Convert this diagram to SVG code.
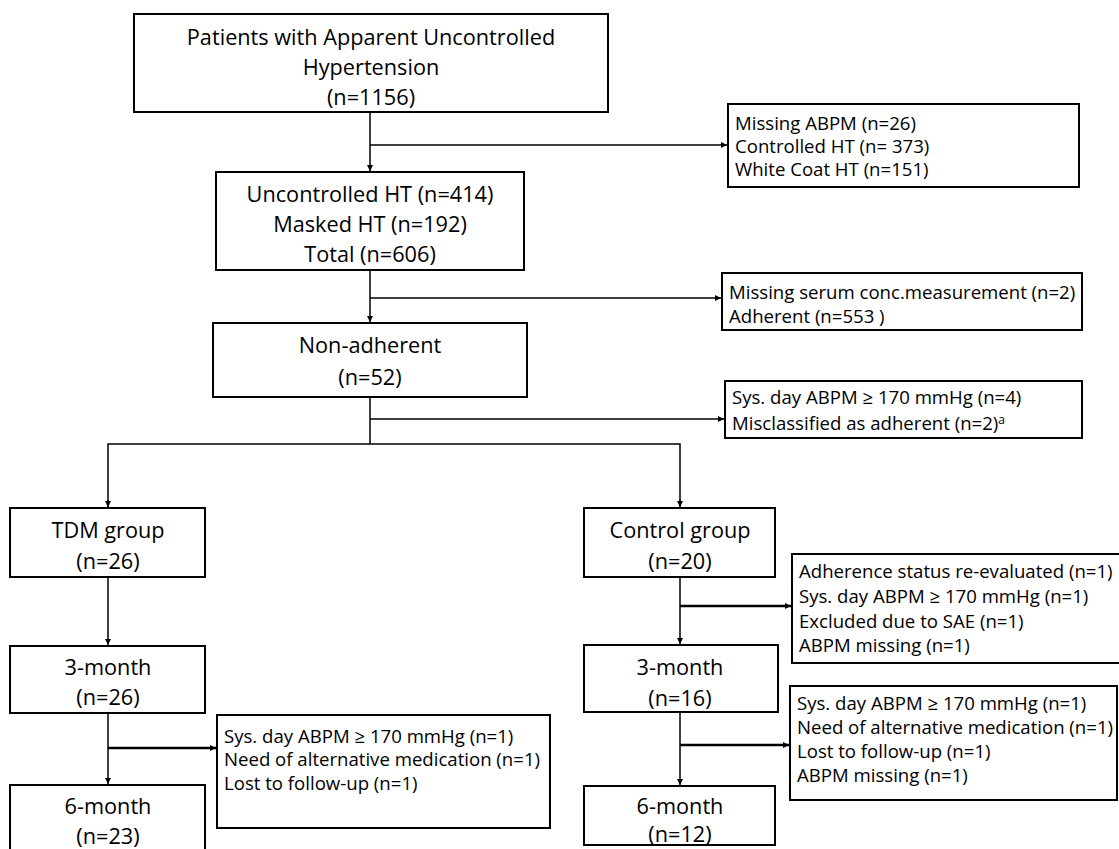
<svg xmlns="http://www.w3.org/2000/svg" width="1119" height="849" viewBox="0 0 1119 849">
<defs>
<marker id="ah" viewBox="0 0 10 10" refX="10" refY="5" markerWidth="6" markerHeight="6" orient="auto" markerUnits="userSpaceOnUse">
<path d="M0,0 L10,5 L0,10 z" fill="#000"/>
</marker>
</defs>
<style>
.box{fill:#fff;stroke:#000;stroke-width:2}
.big{font-family:"Open Sans","Liberation Sans",sans-serif;font-size:21.7px;fill:#000;text-anchor:middle}
.sm{font-family:"Open Sans","Liberation Sans",sans-serif;font-size:18.6px;fill:#000}
.ln{fill:none;stroke:#000;stroke-width:1.5}
.lnb{fill:none;stroke:#000;stroke-width:2.5}
</style>
<rect width="1119" height="849" fill="#fff"/>
<g id="connectors">
<line class="ln" x1="370" y1="112" x2="370" y2="171" marker-end="url(#ah)"/>
<line class="ln" x1="370" y1="145" x2="727" y2="145" marker-end="url(#ah)"/>
<line class="ln" x1="370" y1="270" x2="370" y2="322" marker-end="url(#ah)"/>
<line class="ln" x1="370" y1="298" x2="721" y2="298" marker-end="url(#ah)"/>
<line class="ln" x1="370" y1="397" x2="370" y2="444"/>
<line class="ln" x1="370" y1="419" x2="724" y2="419" marker-end="url(#ah)"/>
<polyline class="ln" points="108,507 108,444 680,444 680,507"/>
<line class="ln" x1="108" y1="500" x2="108" y2="507" marker-end="url(#ah)"/>
<line class="ln" x1="680" y1="500" x2="680" y2="507" marker-end="url(#ah)"/>
<line class="ln" x1="108" y1="577" x2="108" y2="645" marker-end="url(#ah)"/>
<line class="ln" x1="108" y1="713" x2="108" y2="784" marker-end="url(#ah)"/>
<line class="lnb" x1="108" y1="748" x2="216" y2="748" marker-end="url(#ah)"/>
<line class="ln" x1="680" y1="577" x2="680" y2="644" marker-end="url(#ah)"/>
<line class="lnb" x1="680" y1="606" x2="791" y2="606" marker-end="url(#ah)"/>
<line class="ln" x1="680" y1="712" x2="680" y2="785" marker-end="url(#ah)"/>
<line class="lnb" x1="680" y1="745" x2="789" y2="745" marker-end="url(#ah)"/>
</g>
<g id="n-start">
<rect class="box" x="134" y="14" width="474" height="98"/>
<text class="big" x="371" y="45">Patients with Apparent Uncontrolled</text>
<text class="big" x="371" y="75">Hypertension</text>
<text class="big" x="371" y="105">(n=1156)</text>
</g>
<g id="n-excl1">
<rect class="box" x="728" y="104" width="351" height="83"/>
<text class="sm" x="735" y="130">Missing ABPM (n=26)</text>
<text class="sm" x="735" y="153">Controlled HT (n= 373)</text>
<text class="sm" x="735" y="176">White Coat HT (n=151)</text>
</g>
<g id="n-total">
<rect class="box" x="216" y="172" width="308" height="98"/>
<text class="big" x="370" y="202">Uncontrolled HT (n=414)</text>
<text class="big" x="370" y="232">Masked HT (n=192)</text>
<text class="big" x="370" y="262">Total (n=606)</text>
</g>
<g id="n-excl2">
<rect class="box" x="722" y="273" width="360" height="57"/>
<text class="sm" x="729" y="299">Missing serum conc.measurement (n=2)</text>
<text class="sm" x="729" y="323">Adherent (n=553 )</text>
</g>
<g id="n-nonadherent">
<rect class="box" x="213" y="323" width="314" height="74"/>
<text class="big" x="370" y="353">Non-adherent</text>
<text class="big" x="370" y="385">(n=52)</text>
</g>
<g id="n-excl3">
<rect class="box" x="725" y="381" width="357" height="57"/>
<text class="sm" x="732" y="404">Sys. day ABPM ≥ 170 mmHg (n=4)</text>
<text class="sm" x="732" y="430">Misclassified as adherent (n=2)<tspan font-size="12" dy="-6">a</tspan></text>
</g>
<g id="n-tdm">
<rect class="box" x="10" y="508" width="195" height="69"/>
<text class="big" x="108" y="538">TDM group</text>
<text class="big" x="108" y="569">(n=26)</text>
</g>
<g id="n-control">
<rect class="box" x="584" y="508" width="191" height="69"/>
<text class="big" x="680" y="538">Control group</text>
<text class="big" x="680" y="569">(n=20)</text>
</g>
<g id="n-tdm3">
<rect class="box" x="10" y="646" width="195" height="67"/>
<text class="big" x="108" y="675">3-month</text>
<text class="big" x="108" y="705">(n=26)</text>
</g>
<g id="n-tdm-excl">
<rect class="box" x="217" y="715" width="333" height="113"/>
<text class="sm" x="224" y="743">Sys. day ABPM ≥ 170 mmHg (n=1)</text>
<text class="sm" x="224" y="766">Need of alternative medication (n=1)</text>
<text class="sm" x="224" y="790">Lost to follow-up (n=1)</text>
</g>
<g id="n-tdm6">
<rect class="box" x="10" y="785" width="195" height="80"/>
<text class="big" x="108" y="814">6-month</text>
<text class="big" x="108" y="844">(n=23)</text>
</g>
<g id="n-ctrl-excl1">
<rect class="box" x="792" y="554" width="330" height="109"/>
<text class="sm" x="799" y="578">Adherence status re-evaluated (n=1)</text>
<text class="sm" x="799" y="603">Sys. day ABPM ≥ 170 mmHg (n=1)</text>
<text class="sm" x="799" y="628">Excluded due to SAE (n=1)</text>
<text class="sm" x="799" y="652">ABPM missing (n=1)</text>
</g>
<g id="n-ctrl3">
<rect class="box" x="584" y="645" width="194" height="67"/>
<text class="big" x="680" y="675">3-month</text>
<text class="big" x="680" y="706">(n=16)</text>
</g>
<g id="n-ctrl-excl2">
<rect class="box" x="790" y="686" width="327" height="114"/>
<text class="sm" x="797" y="710">Sys. day ABPM ≥ 170 mmHg (n=1)</text>
<text class="sm" x="797" y="734">Need of alternative medication (n=1)</text>
<text class="sm" x="797" y="758">Lost to follow-up (n=1)</text>
<text class="sm" x="797" y="782">ABPM missing (n=1)</text>
</g>
<g id="n-ctrl6">
<rect class="box" x="584" y="786" width="191" height="59"/>
<text class="big" x="680" y="814">6-month</text>
<text class="big" x="680" y="842">(n=12)</text>
</g>
</svg>
